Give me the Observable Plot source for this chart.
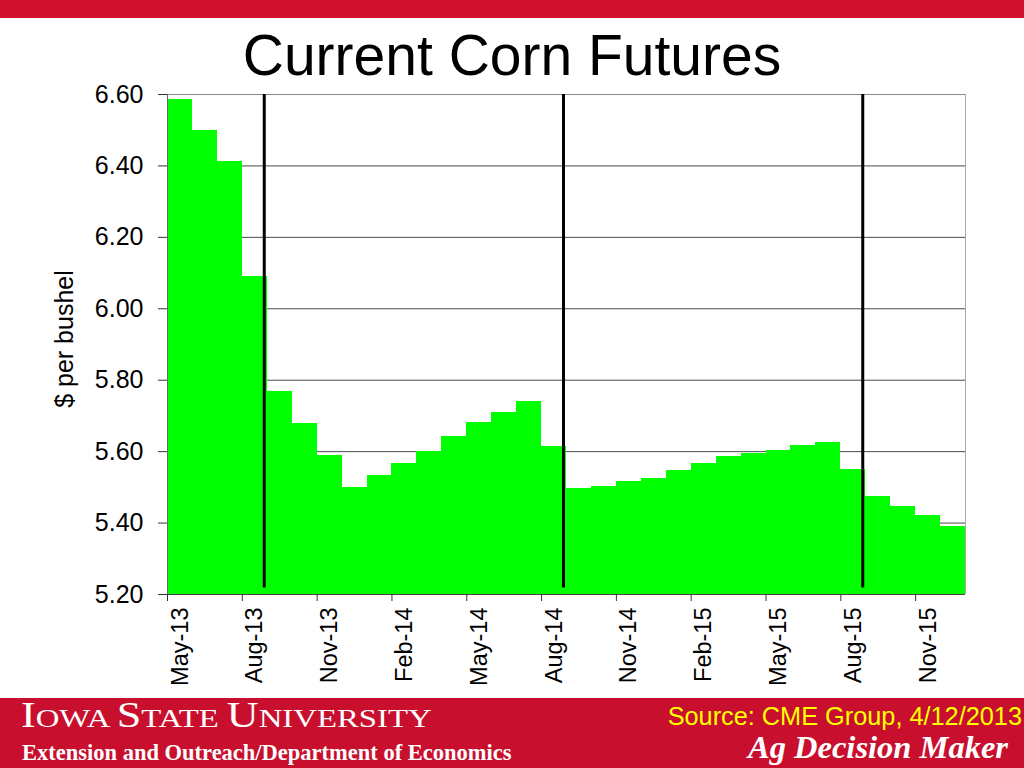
<!DOCTYPE html>
<html>
<head>
<meta charset="utf-8">
<script src="https://cdn.jsdelivr.net/npm/d3@7"></script>
<script src="https://cdn.jsdelivr.net/npm/@observablehq/plot@0.6"></script>
<style>
  html, body { margin: 0; padding: 0; background: #fff; }
  #page { position: relative; width: 1024px; height: 768px; overflow: hidden; background: #fff; font-family: "Liberation Sans", Arial, sans-serif; }
  #topbar { position: absolute; left: 0; top: 0; width: 1024px; height: 18px; background: #d0102c; }
  #title { position: absolute; left: 0; top: 22px; width: 1024px; text-align: center; font-size: 57px; line-height: 66px; color: #000; }
  #chart { position: absolute; left: 0; top: 80px; }
  #ylabel { position: absolute; left: 64px; top: 339px; transform: translate(-50%, -50%) rotate(-90deg); font-size: 25px; white-space: nowrap; color: #000; }
  #footer { position: absolute; left: 0; top: 698px; width: 1024px; height: 70px; background: #c8102e; }
  #isu { position: absolute; left: 21px; top: 697px; font-family: "Liberation Serif", "Times New Roman", serif; font-size: 26px; color: #fff; line-height: 38px; white-space: nowrap; transform: scaleX(1.26); transform-origin: 0 0; }
  #isu .big { font-size: 35px; }
  #ext { position: absolute; left: 22px; top: 740px; font-family: "Liberation Serif", "Times New Roman", serif; font-weight: bold; font-size: 22.5px; color: #fff; line-height: 26px; }
  #source { position: absolute; right: 2px; top: 702px; font-size: 25.3px; color: #ffff00; line-height: 29px; }
  #adm { position: absolute; right: 16px; top: 730px; font-family: "Liberation Serif", "Times New Roman", serif; font-weight: bold; font-style: italic; font-size: 32.5px; color: #fff; line-height: 35px; }
</style>
</head>
<body>
<div id="page">
  <div id="topbar"></div>
  <div id="title">Current Corn Futures</div>
  <div id="chart"></div>
  <div id="ylabel">$ per bushel</div>
  <div id="footer"></div>
  <div id="isu"><span class="big">I</span>OWA <span class="big">S</span>TATE <span class="big">U</span>NIVERSITY</div>
  <div id="ext">Extension and Outreach/Department of Economics</div>
  <div id="source">Source: CME Group, 4/12/2013</div>
  <div id="adm">Ag Decision Maker</div>
</div>
<script>
const months = ["May-13","Jun-13","Jul-13","Aug-13","Sep-13","Oct-13","Nov-13","Dec-13",
  "Jan-14","Feb-14","Mar-14","Apr-14","May-14","Jun-14","Jul-14","Aug-14","Sep-14","Oct-14","Nov-14","Dec-14",
  "Jan-15","Feb-15","Mar-15","Apr-15","May-15","Jun-15","Jul-15","Aug-15","Sep-15","Oct-15","Nov-15","Dec-15"];
const prices = [6.586, 6.499, 6.413, 6.090, 5.769, 5.680, 5.590, 5.499,
  5.532, 5.566, 5.601, 5.642, 5.682, 5.710, 5.740, 5.615, 5.496, 5.502, 5.516, 5.525,
  5.547, 5.567, 5.586, 5.595, 5.603, 5.617, 5.625, 5.550, 5.474, 5.446, 5.420, 5.391];
const yTicks = [5.2, 5.4, 5.6, 5.8, 6.0, 6.2, 6.4, 6.6];
const labeledMonths = ["May-13","Aug-13","Nov-13","Feb-14","May-14","Aug-14","Nov-14","Feb-15","May-15","Aug-15","Nov-15"];
const cropYearStarts = ["Sep-13","Sep-14","Sep-15"];

const data = months.map((m, i) => ({month: m, i, price: prices[i]}));
const monthIndex = m => months.indexOf(m);
const tickMarks = labeledMonths.map(monthIndex);
const labelPos = labeledMonths.map(m => monthIndex(m) + 0.5);

const chart = Plot.plot({
  width: 1024,
  height: 620,
  marginTop: 14,
  marginBottom: 106,
  marginLeft: 167,
  marginRight: 59,
  style: {fontFamily: "'Liberation Sans', Arial, sans-serif", color: "#000", background: "transparent"},
  x: {type: "linear", domain: [0, months.length]},
  y: {domain: [5.2, 6.6]},
  marks: [
    Plot.gridY(yTicks, {stroke: "#4a4a4a", strokeOpacity: 1, strokeWidth: 1}),
    Plot.rectY(data, {x1: "i", x2: d => d.i + 1, y1: 5.2, y2: "price", fill: "#00ff00", shapeRendering: "crispEdges"}),
    Plot.ruleY([6.6], {stroke: "#8a8a8a"}),
    Plot.ruleX([months.length], {stroke: "#a8a8a8"}),
    Plot.ruleX([0], {stroke: "#6a6a6a"}),
    Plot.ruleY([5.2], {stroke: "#444"}),
    Plot.ruleX(cropYearStarts, {x: monthIndex, y1: 5.218, y2: 6.6, stroke: "#000", strokeWidth: 3, dx: -3}),
    Plot.axisY(yTicks, {tickSize: 9, tickPadding: 15, fontSize: 25, tickFormat: d => d.toFixed(2), label: null, stroke: "#333"}),
    Plot.axisX(tickMarks, {tickSize: 7, tickFormat: () => "", label: null, stroke: "#333"}),
    Plot.axisX(labelPos, {tickSize: 0, tickPadding: 13, tickRotate: -90, fontSize: 23.5, tickFormat: v => months[v - 0.5], label: null})
  ]
});
document.getElementById("chart").appendChild(chart);
</script>
</body>
</html>
